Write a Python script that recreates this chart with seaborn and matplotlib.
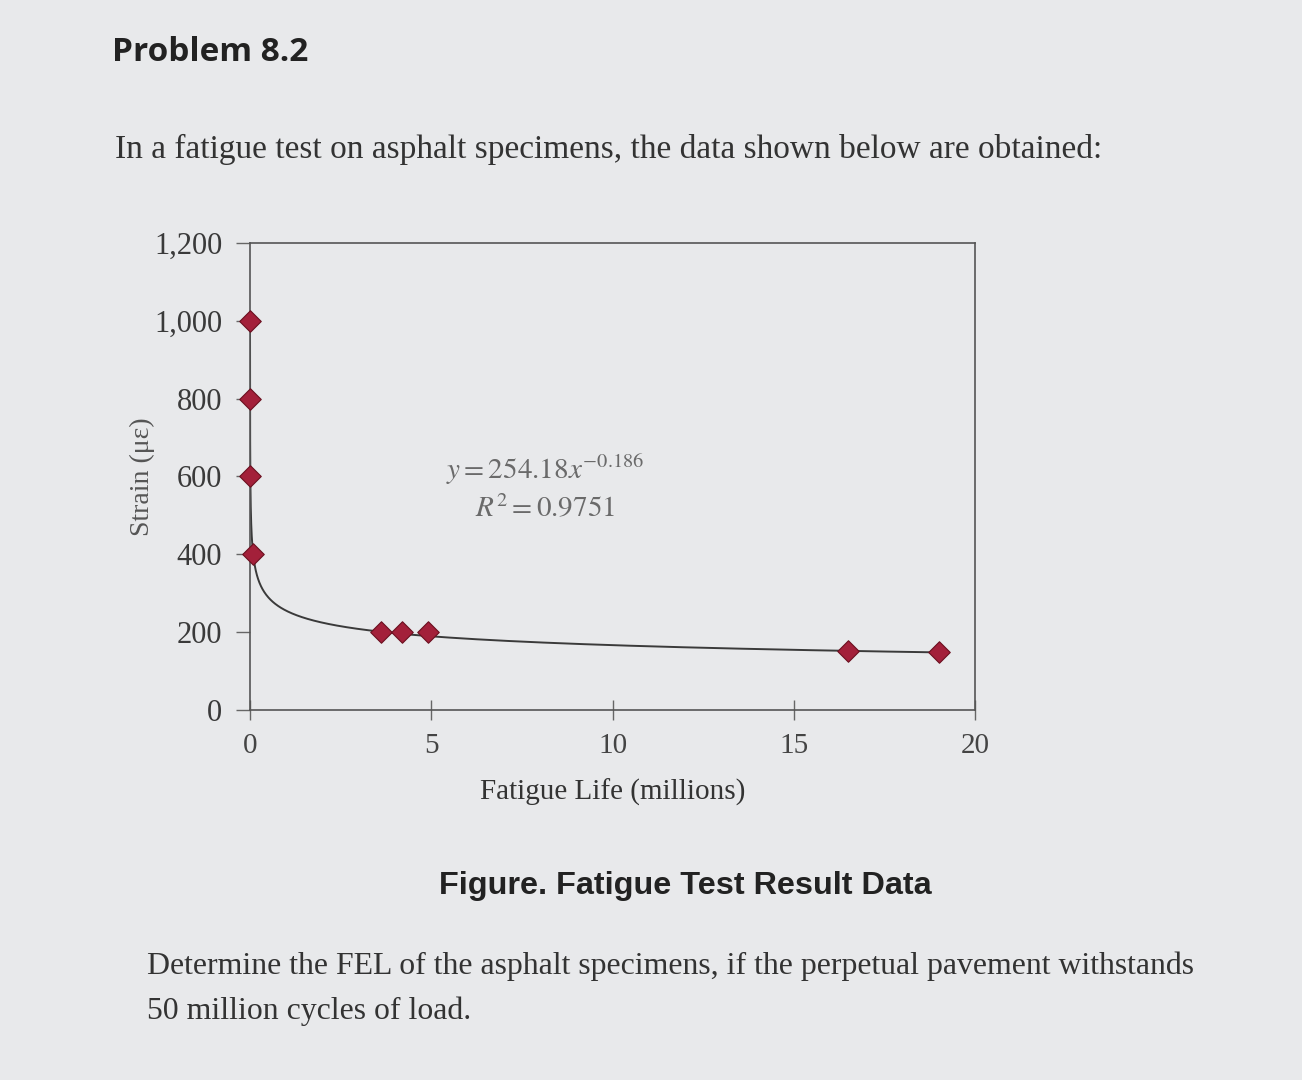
import numpy as np
import pandas as pd
import matplotlib
matplotlib.use("Agg")
import matplotlib.pyplot as plt
import seaborn as sns

# data
fatigue_life = [0.0007, 0.002, 0.01, 0.09, 3.6, 4.2, 4.9, 16.5, 19.0]   # millions
strain = [1000, 800, 600, 400, 200, 200, 200, 150, 148]                  # micro-strain
# power trendline shown on chart
coef_a = 254.18
coef_b = -0.186
r_squared = 0.9751
x_ticks = [0, 5, 10, 15, 20]
y_ticks = [0, 200, 400, 600, 800, 1000, 1200]

df = pd.DataFrame({"life": fatigue_life, "strain": strain})
trend_x = np.geomspace(min(fatigue_life) * 0.9, max(fatigue_life), 400)
trend = pd.DataFrame({"life": trend_x, "strain": coef_a * trend_x ** coef_b})

sns.set_style("white")
plt.rcParams["mathtext.fontset"] = "stix"
serif = ["Liberation Serif", "DejaVu Serif"]
bg = "#e8e9eb"

fig = plt.figure(figsize=(13.02, 10.8), dpi=100, facecolor=bg)
ax = fig.add_axes([0.192, 0.343, 0.557, 0.432])
ax.set_facecolor(bg)

sns.lineplot(data=trend, x="life", y="strain", ax=ax, color="#3a3a3a", lw=1.4)
sns.scatterplot(data=df, x="life", y="strain", ax=ax, marker="D", s=120,
                color="#a3203a", edgecolor="#6b1020", linewidth=0.8, zorder=5, clip_on=False)

ax.set_xlim(0, 20)
ax.set_ylim(0, 1200)
ax.set_xticks(x_ticks)
ax.set_yticks(y_ticks)
ax.set_xticklabels([str(t) for t in x_ticks], fontfamily=serif, fontsize=21, color="#444444")
ax.set_yticklabels([f"{t:,}" for t in y_ticks], fontfamily=serif, fontsize=22, color="#3a3a3a")
ax.tick_params(axis="x", bottom=True, direction="inout", length=14, width=1, color="#666666", pad=10)
ax.tick_params(axis="y", left=True, direction="out", length=10, width=1, color="#666666", pad=10)
for s in ax.spines.values():
    s.set_color("#555555")
    s.set_linewidth(1.2)

ax.set_xlabel("Fatigue Life (millions)", fontfamily=serif, fontsize=21, color="#333333", labelpad=14)
ax.set_ylabel("Strain (\u03bc\u03b5)", fontfamily=serif, fontsize=20, color="#555555")
ax.yaxis.set_label_coords(-0.131, 0.5)

ax.text(0.407, 0.514, r"$\mathit{y = 254.18x^{-0.186}}$", transform=ax.transAxes,
        ha="center", va="center", fontsize=21, color="#6a6a6a")
ax.text(0.407, 0.43, r"$\mathit{R^2 = 0.9751}$", transform=ax.transAxes,
        ha="center", va="center", fontsize=21, color="#6a6a6a")

fig.text(0.086, 0.951, "Problem 8.2", fontfamily=["Open Sans", "DejaVu Sans"], fontweight="bold",
         fontsize=24, color="#222222", va="center")
fig.text(0.088, 0.862, "In a fatigue test on asphalt specimens, the data shown below are obtained:",
         fontfamily=serif, fontsize=24, color="#333333", va="center")
fig.text(0.526, 0.180, "Figure. Fatigue Test Result Data", fontfamily=["Liberation Sans", "DejaVu Sans"],
         fontweight="bold", fontsize=23.3, color="#222222", ha="center", va="center")
fig.text(0.113, 0.105, "Determine the FEL of the asphalt specimens, if the perpetual pavement withstands",
         fontfamily=serif, fontsize=22.9, color="#333333", va="center")
fig.text(0.113, 0.064, "50 million cycles of load.",
         fontfamily=serif, fontsize=22.9, color="#333333", va="center")

fig.savefig("out.png", dpi=100, facecolor=bg)
